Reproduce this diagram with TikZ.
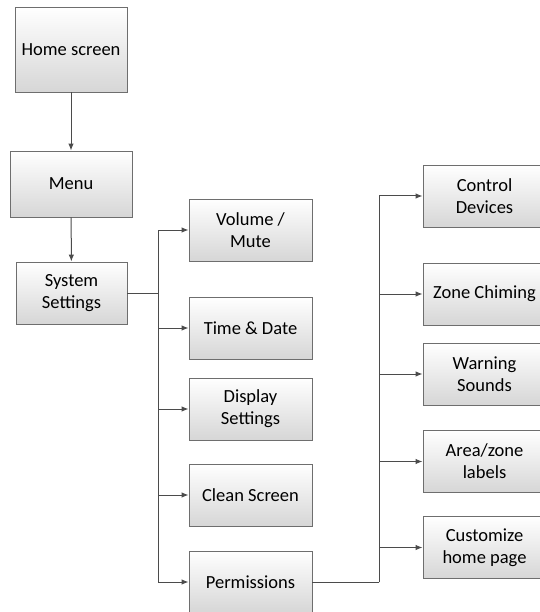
\documentclass[tikz,border=0pt]{standalone}
\usepackage{fontspec}
\setmainfont{Carlito}
\usepackage{xcolor}
\usepackage{tikz}
\usetikzlibrary{calc,arrows.meta}
\definecolor{linegray}{RGB}{75,75,75}
\definecolor{boxgray}{RGB}{110,110,110}
\tikzset{
  menubox/.style={draw=boxgray,line width=0.9pt,top color=white,bottom color=black!16,
    minimum width=123pt,minimum height=62pt,align=center,inner sep=2pt,
    font=\fontsize{18.5}{22}\selectfont},
  link/.style={draw=linegray,line width=1pt},
  arr/.style={link,-{Latex[length=7pt,width=5.5pt]}}
}

\begin{document}
\begin{tikzpicture}[x=1pt,y=-1pt]
\useasboundingbox (0,0) rectangle (539,612);
\node[menubox,minimum width=112pt,minimum height=85pt] (home) at (71,49.5) {Home screen};
\node[menubox,minimum width=122pt,minimum height=66pt] (menu) at (71,184) {Menu};
\node[menubox,minimum width=111pt] (sys) at (71.5,293) {System\\Settings};
\node[menubox] (vol) at (250.5,230) {Volume /\\Mute};
\node[menubox] (time) at (250.5,328) {Time \& Date};
\node[menubox] (disp) at (250.5,409) {Display\\Settings};
\node[menubox] (clean) at (250.5,495) {Clean Screen};
\node[menubox] (perm) at (250.5,582) {Permissions};
\node[menubox] (ctrl) at (484.5,196) {Control\\Devices};
\node[menubox] (zone) at (484.5,294) {Zone Chiming};
\node[menubox] (warn) at (484.5,374) {Warning\\Sounds};
\node[menubox] (area) at (484.5,461.5) {Area/zone\\labels};
\node[menubox] (cust) at (484.5,547.5) {Customize\\home page};
\coordinate (sysfork) at (158,293);
\coordinate (permfork) at (379,582);
\draw[arr] (home) -- (menu);
\draw[arr] (menu) -- (sys);
\draw[link] (sys.east) -- (sysfork);
\foreach \n in {vol,time,disp,clean,perm}
  \draw[arr] (sysfork) |- (\n.west);
\draw[link] (perm.east) -- (permfork);
\foreach \n in {ctrl,zone,warn,area,cust}
  \draw[arr] (permfork) |- (\n.west);
\end{tikzpicture}
\end{document}
